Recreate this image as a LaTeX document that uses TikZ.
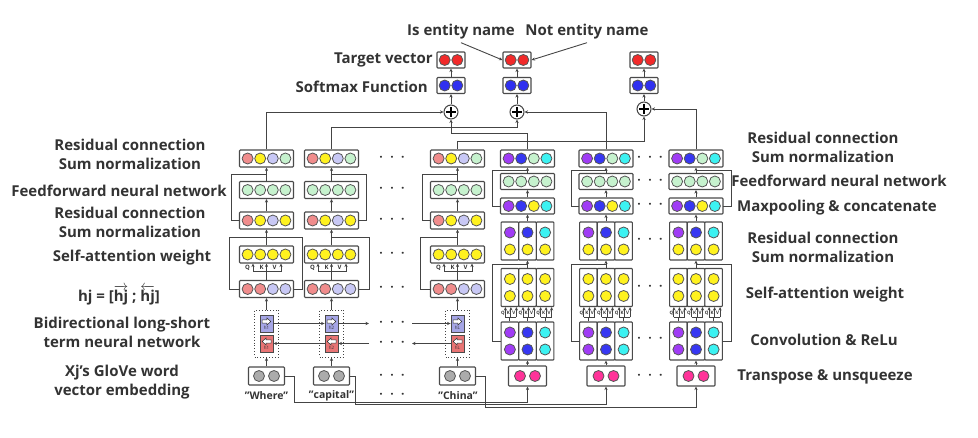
\documentclass[tikz,border=0pt]{standalone}
\usepackage{amsmath}
\usepackage{fontspec}
\setmainfont{Open Sans}
\usetikzlibrary{calc,arrows.meta}
\definecolor{lred}{HTML}{F08C8C}
\definecolor{lyel}{HTML}{FFF21F}
\definecolor{llav}{HTML}{C8C8F5}
\definecolor{lgrn}{HTML}{C6F2CE}
\definecolor{rpur}{HTML}{A03CF5}
\definecolor{rblu}{HTML}{3737F2}
\definecolor{rcya}{HTML}{3CF2F2}
\definecolor{rpink}{HTML}{FF3399}
\definecolor{tred}{HTML}{F22A2A}
\definecolor{tblu}{HTML}{3030F0}
\definecolor{gcir}{HTML}{ABABAB}
\definecolor{fblu}{HTML}{A6A6E6}
\definecolor{bred}{HTML}{E87474}
\definecolor{boxc}{HTML}{4A4A4A}
\definecolor{dotc}{HTML}{555555}
\definecolor{linec}{HTML}{444444}
\definecolor{txtc}{HTML}{333333}
\newcommand{\cb}[7]{%
  \node[vbox,minimum width=#5,minimum height=#6] (#1) at #2 {};
  \foreach \cc [count=\ii] in {#4} {\node[dot,fill=\cc] at ($(#1.center)+({(\ii-(#3+1)/2)*#7},0)$) {};}}
\newcommand{\tb}[4]{%
  \node[vbox,minimum width=17.6,minimum height=38] (#1) at #2 {};
  \node[dot,fill=#3] at ($(#1.center)+(0,-8.5)$) {};
  \node[dot,fill=#4] at ($(#1.center)+(0,8.5)$) {};}
\newcommand{\thrdots}{·\hspace{7.5pt}·\hspace{7.5pt}·}
\newcommand{\qt}{\symbol{34}}
\newcommand{\ap}{\symbol{39}}
\begin{document}
\begin{tikzpicture}[x=1pt,y=-1pt,
  vbox/.style={draw=boxc,line width=1.1pt,fill=white,rounded corners=0.8pt,inner sep=0},
  dot/.style={circle,draw=dotc,line width=0.8pt,minimum size=11,inner sep=0},
  arr/.style={draw=linec,line width=0.9pt,-{Stealth[length=3.5pt,width=3.2pt]}},
  ln/.style={draw=linec,line width=0.9pt},
  lbl/.style={font=\bfseries\fontsize{15}{18.8}\selectfont,text=txtc,align=center,inner sep=0},
  wlbl/.style={font=\bfseries\fontsize{10.5}{13}\selectfont,text=txtc,inner sep=0},
  qk/.style={font=\bfseries\fontsize{6}{6}\selectfont,text=txtc,inner sep=0},
  qks/.style={font=\bfseries\fontsize{4.5}{5}\selectfont,text=txtc,inner sep=0},
  hs/.style={font=\fontsize{4.5}{5}\selectfont,text=txtc,inner sep=0},
  dts/.style={font=\bfseries\fontsize{12}{12}\selectfont,text=txtc,inner sep=0},
  lstm/.style={draw=linec,dotted,line width=0.9pt,minimum width=24,minimum height=47,inner sep=0},
  fbox/.style={draw=boxc,line width=0.9pt,fill=fblu,minimum width=13,minimum height=17,inner sep=0},
  bbox/.style={draw=boxc,line width=0.9pt,fill=bred,minimum width=13,minimum height=17,inner sep=0},
  plus/.style={circle,draw=linec,line width=1pt,fill=white,minimum size=14,inner sep=0,
    path picture={\draw[line width=1.7pt,black] ([xshift=-4.6pt]path picture bounding box.center) -- ([xshift=4.6pt]path picture bounding box.center);
      \draw[line width=1.7pt,black] ([yshift=-4.6pt]path picture bounding box.center) -- ([yshift=4.6pt]path picture bounding box.center);}}
]
\useasboundingbox (0,0) rectangle (978,438);

% ---------- top ----------
\foreach \cn/\cx/\py in {1/451/112,2/517/112,3/644/109}{
  \cb{T\cn}{(\cx,60)}{2}{tred,tred}{28}{16}{12.6}
  \cb{S\cn}{(\cx,85.5)}{2}{tblu,tblu}{28}{16}{12.6}
  \node[plus] (p\cn) at (\cx,\py) {};
  \draw[arr] (p\cn.north) -- (S\cn.south);
  \draw[arr] (S\cn.north) -- (T\cn.south);
}
\node[lbl] (isn) at (461,32) {Is entity name};
\node[lbl] (notn) at (587,32) {Not entity name};
\draw[arr] ($(isn.south)+(0,3)$) -- (T2.west);
\draw[arr] ($(notn.south)+(0,3)$) -- (T2.east);
\node[lbl,anchor=east] (tv) at (433,60) {Target vector};
\node[lbl,anchor=east] (sf) at (428,87) {Softmax Function};

% ---------- left encoder ----------
\foreach \cx/\cn/\sd in {266.5/1/-1,331.5/2/1,457.5/3/-1}{
  \cb{L\cn T}{(\cx,158.5)}{4}{lred,lyel,llav,lgrn}{54}{17}{12.6}
  \cb{L\cn F}{(\cx,190)}{4}{lgrn,lgrn,lgrn,lgrn}{54}{17}{12.6}
  \cb{L\cn M}{(\cx,220.5)}{4}{lred,lyel,llav,lyel}{54}{17}{12.6}
  \cb{L\cn S}{(\cx,254.5)}{4}{lyel,lyel,lyel,lyel}{54}{17}{12.6}
  \cb{L\cn B}{(\cx,289)}{4}{lred,lred,llav,llav}{54}{17}{12.6}
  \node[lstm] (L\cn L) at (\cx,333.5) {};
  \node[fbox] (L\cn f) at (\cx,323.5) {};
  \node[bbox] (L\cn b) at (\cx,343.5) {};
  \draw[line width=0.5pt,draw=black!80,fill=white] ($(L\cn f.center)+(-4.5,-3.6)$) -- ++(4.8,0) -- ++(0,-2) -- ++(4,3.6) -- ++(-4,3.6) -- ++(0,-2) -- ++(-4.8,0) -- cycle;
  \draw[line width=0.5pt,draw=black!80,fill=white] ($(L\cn b.center)+(4.5,-3.6)$) -- ++(-4.8,0) -- ++(0,-2) -- ++(-4,3.6) -- ++(4,3.6) -- ++(0,-2) -- ++(4.8,0) -- cycle;
  \cb{L\cn E}{(\cx,376)}{2}{gcir,gcir}{36}{18}{15}
  \draw[arr] (L\cn F.north) -- (L\cn T.south);
  \draw[arr] (L\cn M.north) -- (L\cn F.south);
  \draw[arr] (L\cn S.north) -- (L\cn M.south);
  \draw[arr] (L\cn L.north) -- (L\cn B.south);
  \draw[arr] (L\cn E.north) -- (L\cn L.south);
  % QKV
  \draw[ln] (L\cn B.north) -- ++(0,-8) coordinate (q\cn);
  \draw[ln] ($(q\cn)+(-13.5,0)$) -- ($(q\cn)+(14.5,0)$);
  \foreach \o in {-13.5,0,14.5} \draw[arr] ($(q\cn)+(\o,0)$) -- ($(L\cn S.south)+(\o,0)$);
  \node[qk] at ($(q\cn)+(-19,-4.3)$) {Q};
  \node[qk] at ($(q\cn)+(-5,-4.3)$) {K};
  \node[qk] at ($(q\cn)+(8,-4.3)$) {V};
  % residual loops
  \draw[ln] ($(L\cn M.center)+(\sd*27,0)$) -- ($(L\cn M.center)+(\sd*35,0)$) |- ($(L\cn F.north)!.5!(L\cn T.south)$);
  \draw[ln] ($(L\cn B.center)+(\sd*27,0)$) -- ($(L\cn B.center)+(\sd*37.5,0)$) |- ($(L\cn S.north)!.5!(L\cn M.south)$);
}
% second side of the first column's attention loop
\draw[ln] ($(L1B.center)+(27,0)$) -- ($(L1B.center)+(35.8,0)$) |- ($(L1S.north)!.5!(L1M.south)$);
\node[hs] at ($(L1f.center)+(0,4.5)$) {h1};
\node[hs] at ($(L1b.center)+(0,4.5)$) {h1};
\node[hs] at ($(L2f.center)+(0,4.5)$) {h2};
\node[hs] at ($(L2b.center)+(0,4.5)$) {h2};
\node[hs] at ($(L3f.center)+(0,4.5)$) {hL};
\node[hs] at ($(L3b.center)+(0,4.5)$) {hL};
% lstm chain
\coordinate (fa) at (369,323.5);
\coordinate (fb) at (412,323.5);
\coordinate (ba) at (369,343.5);
\coordinate (bb) at (412,343.5);
\draw[arr] (L1f.east) -- (L2f.west);
\draw[arr] (L2f.east) -- (fa);
\draw[arr] (fb) -- (L3f.west);
\draw[arr] (L3b.west) -- (bb);
\draw[arr] (ba) -- (L2b.east);
\draw[arr] (L2b.west) -- (L1b.east);
% words
\node[wlbl] (w1) at (266.5,396) {\qt Where\qt};
\node[wlbl] (w2) at (331.5,396) {\qt capital\qt};
\node[wlbl] (w3) at (458,396) {\qt China\qt};
% dots left
\foreach \yy in {158.5,190,220.5,254.5,289,323.5,343.5,377,396}
  \node[dts] at (392,\yy) {\thrdots};

% ---------- right encoder ----------
\foreach \cx/\cn/\sd in {527.5/1/-1,606/2/-1,696/3/1}{
  \cb{R\cn T}{(\cx,158.5)}{4}{rpur,rblu,lgrn,rcya}{54}{17}{12.6}
  \cb{R\cn F}{(\cx,181.5)}{4}{lgrn,lgrn,lgrn,lgrn}{54}{16}{12.6}
  \cb{R\cn X}{(\cx,206)}{4}{rpur,rblu,lyel,rcya}{54}{16}{12.6}
  \tb{R\cn Ra}{(\cx-17.6,241)}{rpur}{lyel}
  \tb{R\cn Rb}{(\cx,241)}{rblu}{lyel}
  \tb{R\cn Rc}{(\cx+17.6,241)}{rcya}{lyel}
  \tb{R\cn Sa}{(\cx-17.6,287.5)}{lyel}{lyel}
  \tb{R\cn Sb}{(\cx,287.5)}{lyel}{lyel}
  \tb{R\cn Sc}{(\cx+17.6,287.5)}{lyel}{lyel}
  \tb{R\cn Ca}{(\cx-17.6,341)}{rpur}{rpur}
  \tb{R\cn Cb}{(\cx,341)}{rblu}{rblu}
  \tb{R\cn Cc}{(\cx+17.6,341)}{rcya}{rcya}
  \cb{R\cn P}{(\cx,376)}{2}{rpink,rpink}{38}{20}{15}
  \draw[arr] (R\cn F.north) -- (R\cn T.south);
  \draw[arr] (R\cn X.north) -- (R\cn F.south);
  \draw[arr] (R\cn Rb.north) -- (R\cn X.south);
  \draw[arr] (R\cn Sb.north) -- (R\cn Rb.south);
  \draw[arr] (R\cn P.north) -- (R\cn Cb.south);
  \foreach \sub in {a,b,c}{
    \draw[ln] (R\cn C\sub.north) -- ++(0,-4) coordinate (qq);
    \draw[ln] ($(qq)+(-4.5,0)$) -- ($(qq)+(6.5,0)$);
    \foreach \o in {-4.5,1,6.5} \draw[arr] ($(qq)+(\o,0)$) -- ($(R\cn S\sub.south)+(\o,0)$);
    \node[qks] at ($(qq)+(-7,-4.5)$) {Q};
    \node[qks] at ($(qq)+(-1.5,-4.5)$) {K};
    \node[qks] at ($(qq)+(4,-4.5)$) {V};
  }
  \draw[ln] ($(R\cn X.center)+(\sd*27,0)$) -- ($(R\cn X.center)+(\sd*35,0)$) |- ($(R\cn F.north)!.5!(R\cn T.south)$);
  \draw[ln] ($(R\cn Cb.center)+(\sd*26.4,0)$) -- ($(R\cn Cb.center)+(\sd*35,0)$) |- ($(R\cn Sb.north)!.5!(R\cn Rb.south)$);
}
\foreach \yy in {158.5,181.5,206,241,288,340,377}
  \node[dts] at (650,\yy) {\thrdots};

% ---------- top connectors ----------
\draw[arr] (L1T.north) |- (p1.west);
\draw[arr] (L2T.north) -- ++(0,-22) -| (p2.south);
\draw[arr] (L3T.north) -- ++(0,-8) -| (p3.south);
\draw[arr] (R1T.north) -- ++(0,-16) -| (p1.south);
\draw[arr] (R2T.north) |- (p2.east);
\draw[arr] (R3T.north) |- (p3.east);

% ---------- bottom connectors ----------
\draw[arr,line width=0.8pt] (L1E.east) -| ($(L1E.east)+(9,26)$) -| (R1P.south);
\draw[arr,line width=0.8pt] (L2E.east) -| ($(L2E.east)+(5,28)$) -| (R2P.south);
\draw[arr,line width=0.8pt] (L3E.east) -| ($(L3E.east)+(9,31)$) -| (R3P.south);

% ---------- labels left ----------
\node[lbl] at (130,154) {Residual connection\\Sum normalization};
\node[lbl] at (119,191) {Feedforward neural network};
\node[lbl] at (130,222.5) {Residual connection\\Sum normalization};
\node[lbl] at (132,258) {Self-attention weight};
\node[lbl] at (119,295) {hj = [$\overrightarrow{\text{hj}}$ ; $\overleftarrow{\text{hj}}$]};
\node[lbl] at (122,332.5) {Bidirectional long-short\\term neural network};
\node[lbl] at (122,382.5) {Xj\ap s GloVe word\\vector embedding};
% ---------- labels right ----------
\node[lbl] at (823,147.5) {Residual connection\\Sum normalization};
\node[lbl] at (839,181) {Feedforward neural network};
\node[lbl] at (837,208) {Maxpooling \& concatenate};
\node[lbl] at (823,247.5) {Residual connection\\Sum normalization};
\node[lbl] at (825,295) {Self-attention weight};
\node[lbl] at (824,340) {Convolution \& ReLu};
\node[lbl] at (825,377) {Transpose \& unsqueeze};
\end{tikzpicture}
\end{document}
